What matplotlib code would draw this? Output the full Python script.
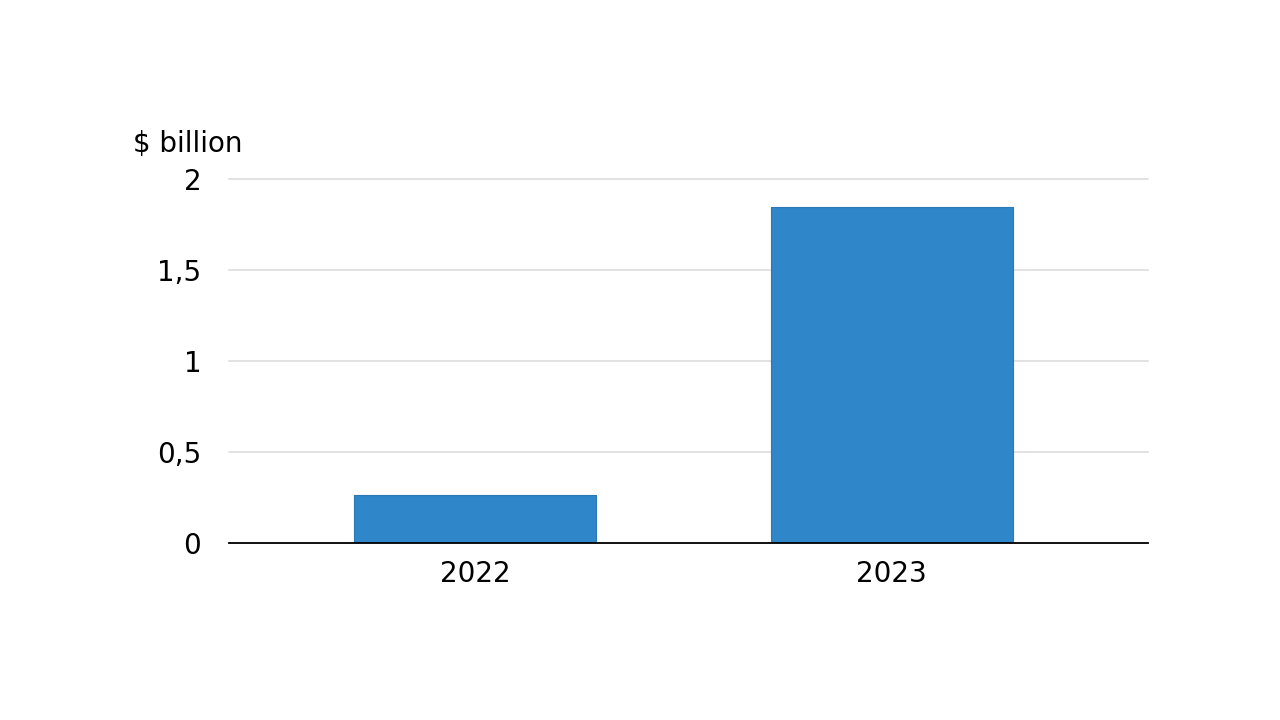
import matplotlib
matplotlib.use("Agg")
import matplotlib.pyplot as plt

# values ($ billion)
years = ["2022", "2023"]
values = [0.264, 1.848]
y_ticks = [0, 0.5, 1, 1.5, 2]
y_tick_labels = ["0", "0,5", "1", "1,5", "2"]

plt.rcParams["font.family"] = ["DejaVu Sans"]

fig = plt.figure(figsize=(12.8, 7.2), dpi=100)
ax = fig.add_axes([0.1789, 0.2458, 0.718, 0.5056])

ax.bar([0, 1], values, width=0.58, color="#2f86c8", edgecolor="#2a78b5",
       linewidth=0.8, zorder=3)

ax.set_xlim(-0.59, 1.615)
ax.set_ylim(0, 2)
ax.set_xticks([0, 1])
ax.set_xticklabels(years, fontsize=20)
ax.set_yticks(y_ticks)
ax.set_yticklabels(y_tick_labels, fontsize=20)

ax.grid(axis="y", color="#dadada", linewidth=1.1, zorder=0)
for line in ax.get_ygridlines():
    line.set_clip_on(False)
ax.tick_params(axis="both", length=0)
ax.tick_params(axis="y", pad=20)
ax.tick_params(axis="x", pad=12)

for side in ["top", "right", "left"]:
    ax.spines[side].set_visible(False)
ax.spines["bottom"].set_color("black")
ax.spines["bottom"].set_linewidth(1.3)
ax.spines["bottom"].set_zorder(4)

fig.text(133 / 1280, 1 - 144 / 720, "$ billion", fontsize=20,
         ha="left", va="center")

fig.savefig("out.png", dpi=100, facecolor="white")
